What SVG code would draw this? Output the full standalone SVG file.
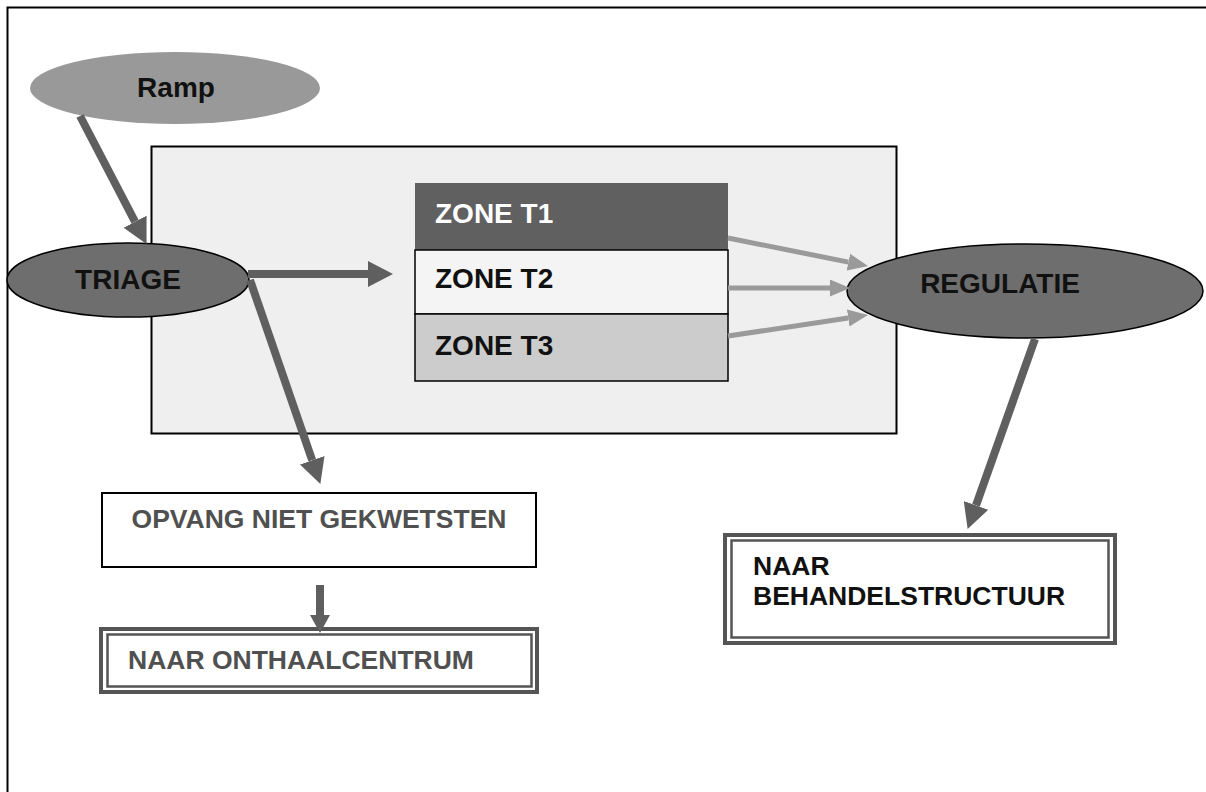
<svg xmlns="http://www.w3.org/2000/svg" width="1206" height="792" viewBox="0 0 1206 792">
<style>
text{font-family:"Liberation Sans",Arial,sans-serif;font-weight:bold}
.big{font-size:28px}
.sm{font-size:26.5px}
.dark{stroke:#5f5f5f;stroke-width:8;fill:none}
.light{stroke:#9a9a9a;stroke-width:5;fill:none}
.dbl{fill:none;stroke:#555}
</style>
<defs>
<marker id="ah" markerUnits="userSpaceOnUse" markerWidth="25" markerHeight="26" viewBox="0 0 25 26" refX="0" refY="13" orient="auto"><path d="M0,0 L25,13 L0,26 Z" fill="#5f5f5f"/></marker>
<marker id="ahs" markerUnits="userSpaceOnUse" markerWidth="18" markerHeight="20" viewBox="0 0 18 20" refX="0" refY="10" orient="auto"><path d="M0,0 L18,10 L0,20 Z" fill="#5f5f5f"/></marker>
<marker id="ahl" markerUnits="userSpaceOnUse" markerWidth="20" markerHeight="17" viewBox="0 0 20 17" refX="0" refY="8.5" orient="auto"><path d="M0,0 L20,8.5 L0,17 Z" fill="#9a9a9a"/></marker>
</defs>
<rect width="1206" height="792" fill="#fff"/>
<path d="M7.5,792 V7.5 H1206" fill="none" stroke="#000" stroke-width="2"/>
<g id="area"><rect x="151.5" y="146.5" width="745" height="287" fill="#efefef" stroke="#000" stroke-width="2"/></g>
<g id="ramp"><ellipse cx="175" cy="88" rx="145" ry="36" fill="#999"/><text class="big" x="176" y="97" text-anchor="middle" fill="#111">Ramp</text></g>
<g id="triage"><ellipse cx="128" cy="280" rx="121" ry="37" fill="#6e6e6e" stroke="#000" stroke-width="1.5"/><text class="big" x="128" y="289" text-anchor="middle" fill="#111">TRIAGE</text></g>
<g id="zones">
<rect x="415" y="183" width="313" height="67" fill="#606060"/>
<rect x="415" y="250" width="313" height="64" fill="#f4f4f4" stroke="#000" stroke-width="1.5"/>
<rect x="415" y="314" width="313" height="67" fill="#cccccc" stroke="#000" stroke-width="1.5"/>
<text class="big" x="435" y="223" fill="#fff">ZONE T1</text>
<text class="big" x="435" y="288" fill="#111">ZONE T2</text>
<text class="big" x="435" y="355" fill="#111">ZONE T3</text>
</g>
<g id="regulatie"><ellipse cx="1025" cy="291" rx="178" ry="47" fill="#6e6e6e" stroke="#000" stroke-width="1.5"/><text class="big" x="1000" y="293" text-anchor="middle" fill="#111">REGULATIE</text></g>
<g id="opvang"><rect x="102" y="493" width="434" height="74" fill="#fff" stroke="#000" stroke-width="2"/><text class="sm" x="319" y="528" text-anchor="middle" fill="#505050">OPVANG NIET GEKWETSTEN</text></g>
<g id="onthaal"><rect x="101" y="629" width="436" height="63" class="dbl" stroke-width="4"/><rect x="107.5" y="634.5" width="424" height="52" class="dbl" stroke-width="2.5"/><text class="sm" x="128" y="669" fill="#505050">NAAR ONTHAALCENTRUM</text></g>
<g id="behandel"><rect x="725" y="535" width="390" height="108" class="dbl" stroke-width="4"/><rect x="731.5" y="540.5" width="377" height="97" class="dbl" stroke-width="2.5"/><text class="sm" fill="#111"><tspan x="753" y="575">NAAR</tspan><tspan x="753" y="605">BEHANDELSTRUCTUUR</tspan></text></g>
<g id="connectors">
<line class="dark" x1="80" y1="116" x2="135" y2="221.7" marker-end="url(#ah)"/>
<line class="dark" x1="248" y1="274" x2="368" y2="274" marker-end="url(#ah)"/>
<line class="dark" x1="250" y1="280" x2="312.2" y2="460.3" marker-end="url(#ah)"/>
<line class="dark" x1="320" y1="585" x2="320" y2="615" stroke-width="7" marker-end="url(#ahs)"/>
<line class="dark" x1="1035" y1="339" x2="976" y2="505.4" marker-end="url(#ah)"/>
<line class="light" x1="728" y1="238" x2="848.4" y2="262.1" marker-end="url(#ahl)"/>
<line class="light" x1="728" y1="288" x2="830" y2="288" marker-end="url(#ahl)"/>
<line class="light" x1="728" y1="336" x2="848.2" y2="318" marker-end="url(#ahl)"/>
</g>
</svg>
